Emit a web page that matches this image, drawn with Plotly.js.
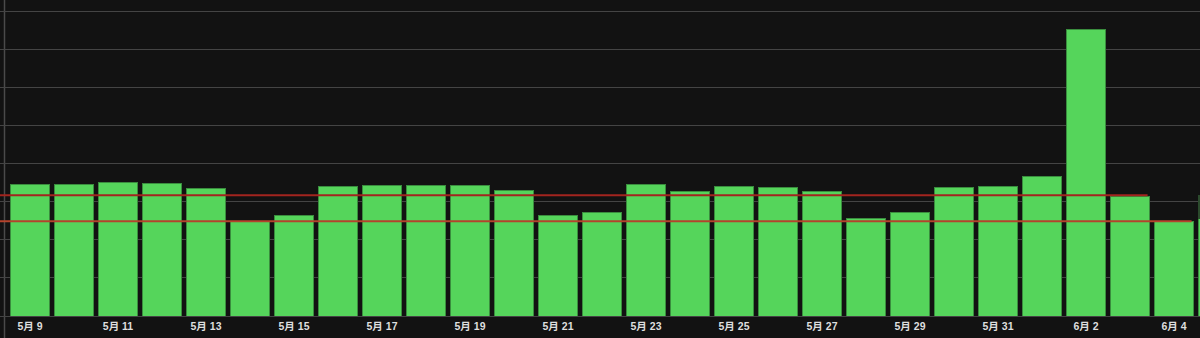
<!DOCTYPE html>
<html>
<head>
<meta charset="utf-8">
<script src="https://cdn.plot.ly/plotly-3.0.1.min.js"></script>
<style>
html,body{margin:0;padding:0;background:#121212;}
#chart{width:1200px;height:338px;}
</style>
</head>
<body>
<div id="chart"></div>
<script>
// ---- data ----
const dates = [
  '2024-05-09','2024-05-10','2024-05-11','2024-05-12','2024-05-13','2024-05-14','2024-05-15',
  '2024-05-16','2024-05-17','2024-05-18','2024-05-19','2024-05-20','2024-05-21','2024-05-22',
  '2024-05-23','2024-05-24','2024-05-25','2024-05-26','2024-05-27','2024-05-28','2024-05-29',
  '2024-05-30','2024-05-31','2024-06-01','2024-06-02','2024-06-03','2024-06-04','2024-06-05'
];
const values = [
  34.6, 34.5, 35.1, 34.9, 33.6, 24.9, 26.3,
  34.1, 34.3, 34.4, 34.3, 32.9, 26.3, 27.2,
  34.5, 32.8, 34.1, 33.8, 32.8, 25.7, 27.2,
  33.8, 34.1, 36.7, 75.4, 31.3, 24.9, 25.6
];
const pendingValues = [
  0, 0, 0, 0, 0, 0, 0,
  0, 0, 0, 0, 0, 0, 0,
  0, 0, 0, 0, 0, 0, 0,
  0, 0, 0, 0, 0, 0, 6.1
];
const upperLineValue = 31.7;
const upperLineEnd = '2024-06-03';
const lowerLineValue = 24.9;
const lowerLineEnd = '2024-06-04';

// ---- layout helpers ----
const DAY = 86400000;
const pxPerDay = 44;
const barWidthDays = 0.89;
function toMs(d){ const p = d.split('-').map(Number); return Date.UTC(p[0], p[1]-1, p[2]); }
function fmt(ms){ return new Date(ms).toISOString().slice(0,19).replace('T',' '); }
const firstMs = toMs(dates[0]);
const x0 = firstMs - (30/pxPerDay)*DAY;
const x1 = x0 + (1200/pxPerDay)*DAY;
const lineOverhang = 0.4*DAY;

const traces = [
  {
    type:'bar', x:dates, y:values,
    width: barWidthDays*DAY,
    marker:{color:'#55d55b', line:{color:'#3a8d3e', width:1}},
    hoverinfo:'skip'
  },
  {
    type:'bar', x:dates, y:pendingValues,
    width: barWidthDays*DAY,
    marker:{color:'#2b4a2c', line:{color:'#2b4a2c', width:0}},
    hoverinfo:'skip'
  },
  {
    type:'scatter', mode:'lines',
    x:[fmt(x0), fmt(toMs(upperLineEnd) + lineOverhang)],
    y:[upperLineValue, upperLineValue],
    line:{color:'#a3241f', width:2}, hoverinfo:'skip', cliponaxis:false
  },
  {
    type:'scatter', mode:'lines',
    x:[fmt(x0), fmt(toMs(lowerLineEnd) + lineOverhang)],
    y:[lowerLineValue, lowerLineValue],
    line:{color:'#b4432c', width:2}, hoverinfo:'skip', cliponaxis:false
  }
];

const layout = {
  width:1200, height:338,
  margin:{l:0, r:0, t:0, b:22, pad:0},
  paper_bgcolor:'#121212', plot_bgcolor:'#121212',
  showlegend:false,
  barmode:'stack',
  xaxis:{
    type:'date',
    range:[fmt(x0), fmt(x1)],
    tick0: dates[0], dtick: 2*DAY,
    tickformat:'%-m月 %-d',
    showgrid:false, zeroline:false, showline:false,
    ticks:'', ticklabelstandoff:2,
    tickfont:{family:'Arial, "Liberation Sans", "Noto Sans CJK JP", sans-serif', size:10.5, color:'#dedede', weight:'bold'}
  },
  yaxis:{
    range:[0, 83.03],
    dtick:10, tick0:0,
    showticklabels:false, ticks:'',
    showgrid:true, gridcolor:'#444444', gridwidth:1,
    zeroline:true, zerolinecolor:'#444444', zerolinewidth:1,
    showline:false
  },
  shapes:[
    {type:'rect', xref:'paper', yref:'paper', x0:0, x1:6/1200, y0:0, y1:1,
     fillcolor:'#121212', line:{width:0}, layer:'between'},
    {type:'line', xref:'paper', yref:'paper', x0:4.5/1200, x1:4.5/1200, y0:-22/316, y1:1,
     line:{color:'#4a4a4a', width:1.5}, layer:'between'}
  ]
};

Plotly.newPlot('chart', traces, layout, {staticPlot:true, displayModeBar:false});
</script>
</body>
</html>
